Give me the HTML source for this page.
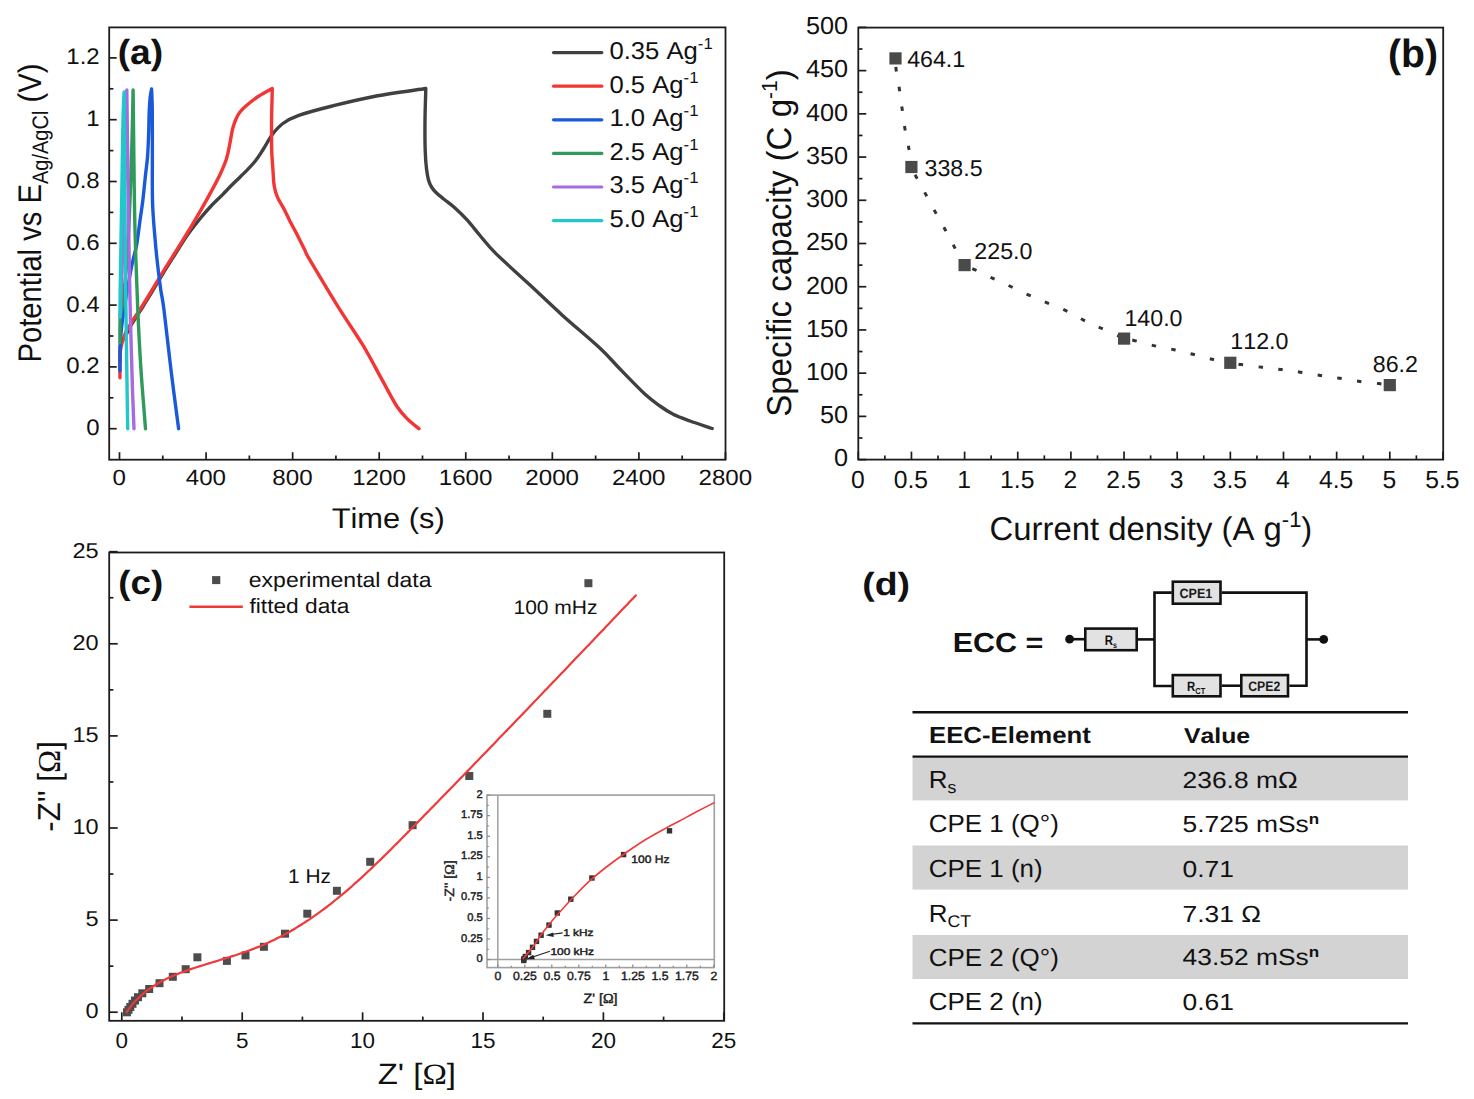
<!DOCTYPE html>
<html><head><meta charset="utf-8"><title>Figure</title>
<style>
html,body{margin:0;padding:0;background:#fff;}
body{width:1474px;height:1099px;overflow:hidden;}
svg{display:block;}
text{font-kerning:none;text-rendering:geometricPrecision;}
</style></head>
<body>
<svg width="1474" height="1099" viewBox="0 0 1474 1099">
<defs><clipPath id="clipi"><rect x="487" y="795.1" width="227.3" height="172.5"/></clipPath></defs>
<rect width="1474" height="1099" fill="#fff"/>
<rect x="109.2" y="27.4" width="616.30" height="432.30" fill="none" stroke="#1c1c1c" stroke-width="1.8"/>
<line x1="119.50" y1="459.70" x2="119.50" y2="452.20" stroke="#1c1c1c" stroke-width="1.7"/>
<line x1="162.78" y1="459.70" x2="162.78" y2="455.50" stroke="#1c1c1c" stroke-width="1.7"/>
<line x1="206.07" y1="459.70" x2="206.07" y2="452.20" stroke="#1c1c1c" stroke-width="1.7"/>
<line x1="249.35" y1="459.70" x2="249.35" y2="455.50" stroke="#1c1c1c" stroke-width="1.7"/>
<line x1="292.64" y1="459.70" x2="292.64" y2="452.20" stroke="#1c1c1c" stroke-width="1.7"/>
<line x1="335.92" y1="459.70" x2="335.92" y2="455.50" stroke="#1c1c1c" stroke-width="1.7"/>
<line x1="379.20" y1="459.70" x2="379.20" y2="452.20" stroke="#1c1c1c" stroke-width="1.7"/>
<line x1="422.49" y1="459.70" x2="422.49" y2="455.50" stroke="#1c1c1c" stroke-width="1.7"/>
<line x1="465.77" y1="459.70" x2="465.77" y2="452.20" stroke="#1c1c1c" stroke-width="1.7"/>
<line x1="509.06" y1="459.70" x2="509.06" y2="455.50" stroke="#1c1c1c" stroke-width="1.7"/>
<line x1="552.34" y1="459.70" x2="552.34" y2="452.20" stroke="#1c1c1c" stroke-width="1.7"/>
<line x1="595.62" y1="459.70" x2="595.62" y2="455.50" stroke="#1c1c1c" stroke-width="1.7"/>
<line x1="638.91" y1="459.70" x2="638.91" y2="452.20" stroke="#1c1c1c" stroke-width="1.7"/>
<line x1="682.19" y1="459.70" x2="682.19" y2="455.50" stroke="#1c1c1c" stroke-width="1.7"/>
<line x1="725.48" y1="459.70" x2="725.48" y2="452.20" stroke="#1c1c1c" stroke-width="1.7"/>
<line x1="109.20" y1="428.70" x2="116.70" y2="428.70" stroke="#1c1c1c" stroke-width="1.7"/>
<line x1="109.20" y1="397.80" x2="113.40" y2="397.80" stroke="#1c1c1c" stroke-width="1.7"/>
<line x1="109.20" y1="366.90" x2="116.70" y2="366.90" stroke="#1c1c1c" stroke-width="1.7"/>
<line x1="109.20" y1="336.00" x2="113.40" y2="336.00" stroke="#1c1c1c" stroke-width="1.7"/>
<line x1="109.20" y1="305.10" x2="116.70" y2="305.10" stroke="#1c1c1c" stroke-width="1.7"/>
<line x1="109.20" y1="274.20" x2="113.40" y2="274.20" stroke="#1c1c1c" stroke-width="1.7"/>
<line x1="109.20" y1="243.30" x2="116.70" y2="243.30" stroke="#1c1c1c" stroke-width="1.7"/>
<line x1="109.20" y1="212.40" x2="113.40" y2="212.40" stroke="#1c1c1c" stroke-width="1.7"/>
<line x1="109.20" y1="181.50" x2="116.70" y2="181.50" stroke="#1c1c1c" stroke-width="1.7"/>
<line x1="109.20" y1="150.60" x2="113.40" y2="150.60" stroke="#1c1c1c" stroke-width="1.7"/>
<line x1="109.20" y1="119.70" x2="116.70" y2="119.70" stroke="#1c1c1c" stroke-width="1.7"/>
<line x1="109.20" y1="88.80" x2="113.40" y2="88.80" stroke="#1c1c1c" stroke-width="1.7"/>
<line x1="109.20" y1="57.90" x2="116.70" y2="57.90" stroke="#1c1c1c" stroke-width="1.7"/>
<path d="M120.0,362.0 C120.1,359.2 119.6,349.2 120.4,345.0 C121.2,340.8 123.1,340.5 125.0,337.0 C126.9,333.5 129.3,328.3 131.8,324.0 C134.3,319.7 137.0,316.0 140.0,311.2 C143.0,306.4 146.2,301.4 150.0,295.2 C153.8,289.0 158.4,280.9 162.7,274.0 C166.9,267.1 172.2,258.9 175.5,253.6 C178.8,248.3 180.2,246.0 182.6,242.3 C185.0,238.6 186.9,235.6 190.0,231.5 C193.1,227.4 197.5,221.8 201.0,217.5 C204.5,213.2 207.5,209.8 211.1,206.0 C214.7,202.2 218.8,198.5 222.6,194.6 C226.4,190.7 230.1,186.8 234.1,182.8 C238.1,178.8 243.2,174.1 246.8,170.4 C250.4,166.7 252.9,164.1 255.7,160.5 C258.5,156.9 260.6,153.3 263.4,149.0 C266.2,144.7 269.1,138.8 272.3,134.5 C275.6,130.2 278.5,126.7 282.9,123.5 C287.3,120.3 290.6,118.3 298.8,115.4 C307.0,112.5 319.4,109.2 332.3,106.0 C345.2,102.8 360.8,98.9 376.4,96.0 C392.0,93.1 417.6,89.8 425.8,88.5 L425.8,88.5 C425.7,93.8 425.1,109.8 425.0,120.0 C424.9,130.2 424.9,141.9 425.2,150.0 C425.4,158.1 425.9,163.8 426.5,168.8 C427.1,173.8 427.7,177.0 428.5,180.0 C429.3,183.0 430.2,184.9 431.5,187.0 C432.8,189.1 434.0,190.5 436.0,192.5 C438.0,194.5 440.5,196.4 443.7,199.0 C446.9,201.6 451.1,204.5 455.0,208.0 C458.9,211.5 463.1,215.6 467.3,220.2 C471.5,224.8 475.3,230.0 480.0,235.5 C484.7,241.0 487.4,245.2 495.7,253.4 C504.0,261.6 519.0,274.8 530.0,285.0 C541.0,295.2 550.4,304.4 562.0,314.9 C573.6,325.4 590.1,339.0 599.8,348.0 C609.5,357.0 612.5,361.3 620.0,369.0 C627.5,376.7 638.1,387.8 644.8,394.0 C651.5,400.2 655.3,402.6 660.0,406.0 C664.7,409.4 668.2,411.8 673.2,414.3 C678.2,416.8 683.5,418.6 690.0,421.0 C696.5,423.4 708.5,427.2 712.2,428.5" fill="none" stroke="#404040" stroke-width="3.4" stroke-linejoin="round" stroke-linecap="round"/>
<path d="M120.0,377.7 C120.0,373.4 119.5,359.3 120.3,352.0 C121.1,344.7 123.1,339.0 125.0,334.0 C126.9,329.0 129.3,326.1 131.8,322.0 C134.3,317.9 137.0,314.2 140.0,309.5 C143.0,304.8 146.2,299.7 150.0,293.5 C153.8,287.3 158.4,279.2 162.7,272.3 C166.9,265.4 171.2,258.7 175.5,251.9 C179.8,245.1 183.9,238.5 188.2,231.5 C192.4,224.5 196.8,217.3 201.0,209.9 C205.2,202.5 210.3,193.3 213.7,186.9 C217.1,180.5 219.2,176.4 221.3,171.7 C223.4,167.0 225.0,163.3 226.4,158.9 C227.8,154.5 228.6,150.0 229.6,145.0 C230.6,140.0 231.5,133.3 232.6,129.0 C233.7,124.7 234.8,121.8 236.0,119.0 C237.2,116.2 238.3,114.2 240.0,112.0 C241.7,109.8 242.9,108.6 245.9,106.0 C248.9,103.4 253.8,99.4 258.2,96.5 C262.6,93.6 269.9,89.8 272.3,88.5 L272.3,88.5 C272.2,93.8 271.7,109.8 271.6,120.0 C271.5,130.2 271.5,141.8 271.7,150.0 C271.9,158.2 272.5,163.2 272.9,169.1 C273.3,175.0 273.4,181.0 274.2,185.7 C274.9,190.4 275.8,193.3 277.4,197.1 C279.0,200.9 281.7,204.6 283.8,208.6 C285.9,212.6 288.0,217.3 290.0,221.3 C292.0,225.3 293.5,227.6 296.0,232.5 C298.5,237.4 302.8,246.1 305.0,250.5 C307.2,254.9 303.6,249.4 309.1,258.7 C314.6,268.0 328.9,292.1 337.8,306.4 C346.7,320.7 355.3,332.6 362.6,344.7 C369.9,356.8 376.0,368.8 381.7,379.1 C387.4,389.4 392.6,399.8 397.0,406.5 C401.4,413.2 404.3,415.8 408.0,419.5 C411.7,423.2 417.2,427.2 419.0,428.7" fill="none" stroke="#f23535" stroke-width="3.4" stroke-linejoin="round" stroke-linecap="round"/>
<path d="M120.0,371.0 C120.0,366.7 120.0,352.2 120.2,345.0 C120.5,337.8 120.9,333.8 121.5,328.0 C122.1,322.2 123.1,316.0 124.0,310.0 C124.9,304.0 126.1,297.5 127.0,292.0 C127.9,286.5 128.6,282.3 129.6,277.0 C130.6,271.7 131.8,265.4 133.0,260.0 C134.2,254.6 135.4,251.8 136.7,244.6 C137.9,237.4 139.4,224.6 140.5,217.0 C141.6,209.4 142.2,206.0 143.0,199.0 C143.8,192.0 144.7,182.2 145.5,175.0 C146.3,167.8 147.1,162.7 147.6,156.0 C148.1,149.3 148.3,142.3 148.6,135.0 C148.9,127.7 148.9,118.3 149.2,112.0 C149.5,105.7 149.8,100.8 150.2,97.0 C150.6,93.2 151.4,90.3 151.6,89.0 L151.6,89.0 C151.7,92.5 152.2,99.8 152.3,110.0 C152.4,120.2 152.4,134.8 152.4,150.0 C152.4,165.2 152.1,186.1 152.5,201.0 C152.9,215.9 154.2,228.6 155.1,239.2 C155.9,249.8 156.6,256.1 157.6,264.6 C158.6,273.1 159.7,282.4 160.8,290.0 C161.9,297.6 162.3,296.7 164.0,310.0 C165.7,323.3 168.6,350.2 171.0,370.0 C173.4,389.8 177.3,418.9 178.6,428.7" fill="none" stroke="#1a5ad8" stroke-width="3.4" stroke-linejoin="round" stroke-linecap="round"/>
<path d="M120.0,342.6 C120.0,338.5 119.7,325.1 120.2,318.0 C120.7,310.9 121.9,309.7 123.0,300.0 C124.1,290.3 125.8,276.7 127.0,260.0 C128.2,243.3 129.2,220.0 130.0,200.0 C130.8,180.0 131.5,158.3 132.0,140.0 C132.5,121.7 132.9,98.3 133.1,90.0 L133.1,90.0 C133.2,100.0 133.5,126.7 133.8,150.0 C134.1,173.3 134.3,203.3 135.0,230.0 C135.7,256.7 136.8,286.7 137.8,310.0 C138.8,333.3 139.7,350.2 141.0,370.0 C142.3,389.8 144.8,418.9 145.5,428.7" fill="none" stroke="#2e9b5b" stroke-width="3.4" stroke-linejoin="round" stroke-linecap="round"/>
<path d="M120.0,317.0 C120.2,314.2 120.5,312.8 121.0,300.0 C121.5,287.2 122.3,263.3 123.0,240.0 C123.7,216.7 124.4,185.0 125.0,160.0 C125.6,135.0 126.5,101.7 126.8,90.0 L126.8,90.0 C126.9,100.0 127.2,123.3 127.6,150.0 C128.0,176.7 128.5,221.7 129.0,250.0 C129.5,278.3 129.9,296.7 130.5,320.0 C131.1,343.3 131.9,371.9 132.5,390.0 C133.1,408.1 133.8,422.2 134.0,428.7" fill="none" stroke="#a86ae0" stroke-width="3.4" stroke-linejoin="round" stroke-linecap="round"/>
<path d="M120.0,317.0 C120.0,312.5 120.0,302.8 120.2,290.0 C120.4,277.2 120.7,258.3 121.0,240.0 C121.3,221.7 121.7,200.0 122.0,180.0 C122.3,160.0 122.7,134.7 123.0,120.0 C123.3,105.3 123.9,96.7 124.1,92.0 L124.1,92.0 C124.2,101.7 124.4,123.7 124.6,150.0 C124.8,176.3 125.0,220.0 125.3,250.0 C125.6,280.0 125.8,300.2 126.2,330.0 C126.6,359.8 127.5,412.2 127.7,428.7" fill="none" stroke="#20c8cc" stroke-width="3.4" stroke-linejoin="round" stroke-linecap="round"/>
<line x1="553.50" y1="52.60" x2="601.80" y2="52.60" stroke="#404040" stroke-width="3.2" stroke-linecap="round"/>
<line x1="553.50" y1="86.20" x2="601.80" y2="86.20" stroke="#f23535" stroke-width="3.2" stroke-linecap="round"/>
<line x1="553.50" y1="119.80" x2="601.80" y2="119.80" stroke="#1a5ad8" stroke-width="3.2" stroke-linecap="round"/>
<line x1="553.50" y1="153.40" x2="601.80" y2="153.40" stroke="#2e9b5b" stroke-width="3.2" stroke-linecap="round"/>
<line x1="553.50" y1="187.00" x2="601.80" y2="187.00" stroke="#a86ae0" stroke-width="3.2" stroke-linecap="round"/>
<line x1="553.50" y1="220.60" x2="601.80" y2="220.60" stroke="#20c8cc" stroke-width="3.2" stroke-linecap="round"/>
<rect x="858.3" y="27.6" width="584.90" height="432.00" fill="none" stroke="#1c1c1c" stroke-width="1.8"/>
<line x1="858.30" y1="459.60" x2="858.30" y2="451.60" stroke="#1c1c1c" stroke-width="1.7"/>
<line x1="884.88" y1="459.60" x2="884.88" y2="455.40" stroke="#1c1c1c" stroke-width="1.7"/>
<line x1="911.45" y1="459.60" x2="911.45" y2="451.60" stroke="#1c1c1c" stroke-width="1.7"/>
<line x1="938.02" y1="459.60" x2="938.02" y2="455.40" stroke="#1c1c1c" stroke-width="1.7"/>
<line x1="964.60" y1="459.60" x2="964.60" y2="451.60" stroke="#1c1c1c" stroke-width="1.7"/>
<line x1="991.17" y1="459.60" x2="991.17" y2="455.40" stroke="#1c1c1c" stroke-width="1.7"/>
<line x1="1017.75" y1="459.60" x2="1017.75" y2="451.60" stroke="#1c1c1c" stroke-width="1.7"/>
<line x1="1044.33" y1="459.60" x2="1044.33" y2="455.40" stroke="#1c1c1c" stroke-width="1.7"/>
<line x1="1070.90" y1="459.60" x2="1070.90" y2="451.60" stroke="#1c1c1c" stroke-width="1.7"/>
<line x1="1097.47" y1="459.60" x2="1097.47" y2="455.40" stroke="#1c1c1c" stroke-width="1.7"/>
<line x1="1124.05" y1="459.60" x2="1124.05" y2="451.60" stroke="#1c1c1c" stroke-width="1.7"/>
<line x1="1150.62" y1="459.60" x2="1150.62" y2="455.40" stroke="#1c1c1c" stroke-width="1.7"/>
<line x1="1177.20" y1="459.60" x2="1177.20" y2="451.60" stroke="#1c1c1c" stroke-width="1.7"/>
<line x1="1203.77" y1="459.60" x2="1203.77" y2="455.40" stroke="#1c1c1c" stroke-width="1.7"/>
<line x1="1230.35" y1="459.60" x2="1230.35" y2="451.60" stroke="#1c1c1c" stroke-width="1.7"/>
<line x1="1256.92" y1="459.60" x2="1256.92" y2="455.40" stroke="#1c1c1c" stroke-width="1.7"/>
<line x1="1283.50" y1="459.60" x2="1283.50" y2="451.60" stroke="#1c1c1c" stroke-width="1.7"/>
<line x1="1310.07" y1="459.60" x2="1310.07" y2="455.40" stroke="#1c1c1c" stroke-width="1.7"/>
<line x1="1336.65" y1="459.60" x2="1336.65" y2="451.60" stroke="#1c1c1c" stroke-width="1.7"/>
<line x1="1363.22" y1="459.60" x2="1363.22" y2="455.40" stroke="#1c1c1c" stroke-width="1.7"/>
<line x1="1389.80" y1="459.60" x2="1389.80" y2="451.60" stroke="#1c1c1c" stroke-width="1.7"/>
<line x1="1416.38" y1="459.60" x2="1416.38" y2="455.40" stroke="#1c1c1c" stroke-width="1.7"/>
<line x1="1442.95" y1="459.60" x2="1442.95" y2="451.60" stroke="#1c1c1c" stroke-width="1.7"/>
<line x1="858.30" y1="459.60" x2="866.30" y2="459.60" stroke="#1c1c1c" stroke-width="1.7"/>
<line x1="858.30" y1="437.99" x2="862.50" y2="437.99" stroke="#1c1c1c" stroke-width="1.7"/>
<line x1="858.30" y1="416.38" x2="866.30" y2="416.38" stroke="#1c1c1c" stroke-width="1.7"/>
<line x1="858.30" y1="394.77" x2="862.50" y2="394.77" stroke="#1c1c1c" stroke-width="1.7"/>
<line x1="858.30" y1="373.16" x2="866.30" y2="373.16" stroke="#1c1c1c" stroke-width="1.7"/>
<line x1="858.30" y1="351.55" x2="862.50" y2="351.55" stroke="#1c1c1c" stroke-width="1.7"/>
<line x1="858.30" y1="329.94" x2="866.30" y2="329.94" stroke="#1c1c1c" stroke-width="1.7"/>
<line x1="858.30" y1="308.33" x2="862.50" y2="308.33" stroke="#1c1c1c" stroke-width="1.7"/>
<line x1="858.30" y1="286.72" x2="866.30" y2="286.72" stroke="#1c1c1c" stroke-width="1.7"/>
<line x1="858.30" y1="265.11" x2="862.50" y2="265.11" stroke="#1c1c1c" stroke-width="1.7"/>
<line x1="858.30" y1="243.50" x2="866.30" y2="243.50" stroke="#1c1c1c" stroke-width="1.7"/>
<line x1="858.30" y1="221.89" x2="862.50" y2="221.89" stroke="#1c1c1c" stroke-width="1.7"/>
<line x1="858.30" y1="200.28" x2="866.30" y2="200.28" stroke="#1c1c1c" stroke-width="1.7"/>
<line x1="858.30" y1="178.67" x2="862.50" y2="178.67" stroke="#1c1c1c" stroke-width="1.7"/>
<line x1="858.30" y1="157.06" x2="866.30" y2="157.06" stroke="#1c1c1c" stroke-width="1.7"/>
<line x1="858.30" y1="135.45" x2="862.50" y2="135.45" stroke="#1c1c1c" stroke-width="1.7"/>
<line x1="858.30" y1="113.84" x2="866.30" y2="113.84" stroke="#1c1c1c" stroke-width="1.7"/>
<line x1="858.30" y1="92.23" x2="862.50" y2="92.23" stroke="#1c1c1c" stroke-width="1.7"/>
<line x1="858.30" y1="70.62" x2="866.30" y2="70.62" stroke="#1c1c1c" stroke-width="1.7"/>
<line x1="858.30" y1="49.01" x2="862.50" y2="49.01" stroke="#1c1c1c" stroke-width="1.7"/>
<line x1="858.30" y1="27.40" x2="866.30" y2="27.40" stroke="#1c1c1c" stroke-width="1.7"/>
<path d="M895.7,58.3 C895.8,60.2 895.5,64.3 896.1,69.5 C896.7,74.7 898.4,82.7 899.4,89.2 C900.4,95.8 901.2,102.3 902.1,108.8 C903.0,115.2 903.7,121.3 904.8,127.9 C905.9,134.5 907.7,141.7 908.8,148.2 C909.9,154.7 910.8,163.9 911.2,167.0" fill="none" stroke="#333" stroke-width="3" stroke-dasharray="4.5 15.4" stroke-dashoffset="-8.8" stroke-linecap="butt"/>
<path d="M911.2,167.0 C912.1,168.8 914.3,173.3 916.8,177.9 C919.2,182.5 922.8,188.8 925.9,194.6 C929.0,200.3 932.3,206.6 935.5,212.4 C938.7,218.2 942.0,223.9 945.2,229.7 C948.4,235.5 951.4,241.5 954.6,247.4 C957.8,253.3 962.8,262.3 964.4,265.3" fill="none" stroke="#333" stroke-width="3" stroke-dasharray="4.5 15.4" stroke-dashoffset="-8.8" stroke-linecap="butt"/>
<path d="M964.4,265.3 C966.1,266.0 969.9,267.4 974.6,269.6 C979.3,271.8 986.8,275.5 992.8,278.3 C998.8,281.1 1004.7,283.7 1010.7,286.5 C1016.7,289.3 1022.8,292.4 1028.9,295.1 C1035.0,297.8 1041.0,300.3 1047.1,302.9 C1053.2,305.4 1059.4,307.6 1065.4,310.4 C1071.4,313.2 1077.2,317.0 1083.1,319.9 C1089.0,322.8 1093.9,324.9 1100.7,328.0 C1107.5,331.1 1120.0,336.7 1123.8,338.4" fill="none" stroke="#333" stroke-width="3" stroke-dasharray="4.5 15.4" stroke-dashoffset="-8.8" stroke-linecap="butt"/>
<path d="M1123.8,338.4 C1125.4,338.7 1128.3,339.0 1133.3,340.2 C1138.3,341.4 1146.8,344.0 1153.6,345.6 C1160.4,347.2 1167.4,348.2 1174.0,349.7 C1180.6,351.1 1186.7,352.7 1193.0,354.3 C1199.3,355.9 1205.8,357.8 1212.0,359.2 C1218.2,360.6 1227.1,362.0 1230.1,362.6" fill="none" stroke="#333" stroke-width="3" stroke-dasharray="4.5 15.4" stroke-dashoffset="-8.8" stroke-linecap="butt"/>
<path d="M1230.1,362.6 C1232.0,362.9 1235.9,363.8 1241.3,364.6 C1246.7,365.4 1255.5,366.5 1262.2,367.3 C1268.9,368.1 1274.9,368.7 1281.2,369.5 C1287.5,370.3 1293.7,371.2 1300.2,372.2 C1306.8,373.2 1314.0,374.5 1320.5,375.5 C1327.0,376.5 1332.9,377.2 1339.5,378.2 C1346.1,379.2 1353.3,380.6 1359.9,381.5 C1366.5,382.4 1373.9,383.0 1378.9,383.6 C1383.9,384.2 1387.9,384.8 1389.7,385.0" fill="none" stroke="#333" stroke-width="3" stroke-dasharray="4.5 15.4" stroke-dashoffset="-8.8" stroke-linecap="butt"/>
<rect x="889.4" y="52.3" width="12.2" height="12.2" fill="#4a4a4a"/>
<rect x="905.3" y="160.9" width="12.2" height="12.2" fill="#4a4a4a"/>
<rect x="958.5" y="259.0" width="12.2" height="12.2" fill="#4a4a4a"/>
<rect x="1118.0" y="332.5" width="12.2" height="12.2" fill="#4a4a4a"/>
<rect x="1224.2" y="356.7" width="12.2" height="12.2" fill="#4a4a4a"/>
<rect x="1383.7" y="379.0" width="12.2" height="12.2" fill="#4a4a4a"/>
<rect x="109.2" y="552.5" width="615.00" height="468.30" fill="none" stroke="#1c1c1c" stroke-width="1.8"/>
<line x1="121.80" y1="1020.80" x2="121.80" y2="1012.30" stroke="#1c1c1c" stroke-width="1.7"/>
<line x1="182.00" y1="1020.80" x2="182.00" y2="1016.60" stroke="#1c1c1c" stroke-width="1.7"/>
<line x1="242.20" y1="1020.80" x2="242.20" y2="1012.30" stroke="#1c1c1c" stroke-width="1.7"/>
<line x1="302.40" y1="1020.80" x2="302.40" y2="1016.60" stroke="#1c1c1c" stroke-width="1.7"/>
<line x1="362.60" y1="1020.80" x2="362.60" y2="1012.30" stroke="#1c1c1c" stroke-width="1.7"/>
<line x1="422.80" y1="1020.80" x2="422.80" y2="1016.60" stroke="#1c1c1c" stroke-width="1.7"/>
<line x1="483.00" y1="1020.80" x2="483.00" y2="1012.30" stroke="#1c1c1c" stroke-width="1.7"/>
<line x1="543.20" y1="1020.80" x2="543.20" y2="1016.60" stroke="#1c1c1c" stroke-width="1.7"/>
<line x1="603.40" y1="1020.80" x2="603.40" y2="1012.30" stroke="#1c1c1c" stroke-width="1.7"/>
<line x1="663.60" y1="1020.80" x2="663.60" y2="1016.60" stroke="#1c1c1c" stroke-width="1.7"/>
<line x1="723.80" y1="1020.80" x2="723.80" y2="1012.30" stroke="#1c1c1c" stroke-width="1.7"/>
<line x1="109.20" y1="1012.20" x2="117.70" y2="1012.20" stroke="#1c1c1c" stroke-width="1.7"/>
<line x1="109.20" y1="966.15" x2="113.40" y2="966.15" stroke="#1c1c1c" stroke-width="1.7"/>
<line x1="109.20" y1="920.10" x2="117.70" y2="920.10" stroke="#1c1c1c" stroke-width="1.7"/>
<line x1="109.20" y1="874.05" x2="113.40" y2="874.05" stroke="#1c1c1c" stroke-width="1.7"/>
<line x1="109.20" y1="828.00" x2="117.70" y2="828.00" stroke="#1c1c1c" stroke-width="1.7"/>
<line x1="109.20" y1="781.95" x2="113.40" y2="781.95" stroke="#1c1c1c" stroke-width="1.7"/>
<line x1="109.20" y1="735.90" x2="117.70" y2="735.90" stroke="#1c1c1c" stroke-width="1.7"/>
<line x1="109.20" y1="689.85" x2="113.40" y2="689.85" stroke="#1c1c1c" stroke-width="1.7"/>
<line x1="109.20" y1="643.80" x2="117.70" y2="643.80" stroke="#1c1c1c" stroke-width="1.7"/>
<line x1="109.20" y1="597.75" x2="113.40" y2="597.75" stroke="#1c1c1c" stroke-width="1.7"/>
<line x1="109.20" y1="551.70" x2="117.70" y2="551.70" stroke="#1c1c1c" stroke-width="1.7"/>
<rect x="212.1" y="576.1" width="8.2" height="8" fill="#4d4d4d"/>
<line x1="189.40" y1="606.80" x2="242.80" y2="606.80" stroke="#f03a3a" stroke-width="2.4"/>
<rect x="584.4" y="579.2" width="8" height="8" fill="#4d4d4d"/>
<rect x="543.3" y="709.8" width="8" height="8" fill="#4d4d4d"/>
<rect x="465.3" y="772.0" width="8" height="8" fill="#4d4d4d"/>
<rect x="408.6" y="821.2" width="8" height="8" fill="#4d4d4d"/>
<rect x="366.2" y="857.8" width="8" height="8" fill="#4d4d4d"/>
<rect x="332.9" y="886.8" width="8" height="8" fill="#4d4d4d"/>
<rect x="303.3" y="909.7" width="8" height="8" fill="#4d4d4d"/>
<rect x="281.0" y="929.7" width="8" height="8" fill="#4d4d4d"/>
<rect x="259.9" y="942.8" width="8" height="8" fill="#4d4d4d"/>
<rect x="241.5" y="951.4" width="8" height="8" fill="#4d4d4d"/>
<rect x="222.9" y="956.9" width="8" height="8" fill="#4d4d4d"/>
<rect x="193.4" y="953.3" width="8" height="8" fill="#4d4d4d"/>
<rect x="181.7" y="965.2" width="8" height="8" fill="#4d4d4d"/>
<rect x="168.8" y="972.8" width="8" height="8" fill="#4d4d4d"/>
<rect x="155.5" y="979.2" width="8" height="8" fill="#4d4d4d"/>
<rect x="145.2" y="985.0" width="8" height="8" fill="#4d4d4d"/>
<rect x="138.3" y="989.3" width="8" height="8" fill="#4d4d4d"/>
<rect x="134.0" y="993.2" width="8" height="8" fill="#4d4d4d"/>
<rect x="131.0" y="996.5" width="8" height="8" fill="#4d4d4d"/>
<rect x="128.5" y="999.8" width="8" height="8" fill="#4d4d4d"/>
<rect x="126.3" y="1003.0" width="8" height="8" fill="#4d4d4d"/>
<rect x="124.5" y="1005.8" width="8" height="8" fill="#4d4d4d"/>
<rect x="123.0" y="1008.3" width="8" height="8" fill="#4d4d4d"/>
<path d="M126.7,1012.0 L128.5,1009.4 L130.4,1006.9 L132.4,1004.4 L134.4,1002.1 L136.5,999.8 L138.7,997.7 L141.0,995.6 L143.3,993.6 L145.6,991.7 L148.0,989.9 L150.5,988.1 L153.0,986.5 L155.5,984.8 L158.1,983.3 L160.7,981.8 L163.4,980.4 L166.1,979.1 L168.8,977.8 L171.5,976.5 L174.3,975.3 L177.1,974.2 L179.9,973.0 L182.8,972.0 L185.6,970.9 L188.5,969.9 L191.4,968.9 L194.3,968.0 L197.2,967.0 L200.1,966.1 L203.1,965.2 L206.0,964.3 L209.0,963.4 L211.9,962.5 L214.8,961.6 L217.8,960.7 L220.7,959.8 L223.7,958.9 L226.6,958.0 L229.5,957.1 L232.5,956.1 L235.4,955.2 L238.3,954.2 L241.2,953.2 L244.1,952.2 L247.0,951.2 L249.8,950.2 L252.7,949.1 L255.5,948.0 L258.4,946.9 L261.2,945.7 L264.0,944.5 L266.7,943.3 L269.5,942.1 L272.2,940.8 L274.9,939.5 L277.6,938.1 L280.3,936.8 L283.0,935.4 L285.6,933.9 L288.3,932.5 L290.9,931.0 L293.5,929.5 L296.1,927.9 L298.6,926.3 L301.2,924.7 L303.7,923.1 L306.2,921.5 L308.8,919.8 L311.3,918.1 L313.7,916.4 L316.2,914.7 L318.7,912.9 L321.1,911.1 L323.5,909.3 L326.0,907.5 L328.4,905.7 L330.8,903.8 L333.2,901.9 L335.5,900.0 L337.9,898.1 L340.2,896.2 L342.6,894.2 L344.9,892.3 L347.2,890.3 L349.5,888.3 L351.9,886.3 L354.1,884.2 L356.4,882.2 L358.7,880.1 L361.0,878.1 L363.2,876.0 L365.5,873.9 L367.7,871.8 L370.0,869.7 L372.2,867.6 L374.4,865.5 L376.7,863.3 L378.9,861.2 L381.1,859.1 L383.3,856.9 L385.5,854.7 L387.7,852.6 L389.9,850.4 L392.0,848.2 L394.2,846.0 L396.4,843.9 L398.6,841.7 L400.7,839.5 L402.9,837.3 L405.1,835.1 L407.2,832.9 L409.4,830.7 L411.5,828.5 L413.7,826.3 L415.8,824.1 L418.0,821.9 L420.1,819.7 L422.3,817.5 L424.4,815.3 L426.6,813.1 L428.7,811.0 L430.8,808.8 L433.0,806.6 L435.1,804.4 L437.3,802.2 L439.4,800.0 L441.5,797.8 L443.7,795.6 L445.8,793.4 L447.9,791.3 L450.1,789.1 L452.2,786.9 L454.3,784.7 L456.4,782.5 L458.6,780.3 L460.7,778.1 L462.8,776.0 L464.9,773.8 L467.0,771.6 L469.2,769.4 L471.3,767.2 L473.4,765.0 L475.5,762.8 L477.6,760.7 L479.7,758.5 L481.8,756.3 L484.0,754.1 L486.1,751.9 L488.2,749.7 L490.3,747.5 L492.4,745.4 L494.5,743.2 L496.6,741.0 L498.7,738.8 L500.8,736.6 L502.9,734.4 L505.0,732.2 L507.1,730.1 L509.2,727.9 L511.4,725.7 L513.5,723.5 L515.6,721.3 L517.7,719.1 L519.8,716.9 L521.9,714.7 L524.0,712.6 L526.1,710.4 L528.2,708.2 L530.3,706.0 L532.4,703.8 L534.5,701.6 L536.6,699.4 L538.7,697.2 L540.8,695.0 L542.9,692.8 L545.0,690.6 L547.1,688.4 L549.2,686.2 L551.3,684.0 L553.4,681.8 L555.5,679.7 L557.6,677.5 L559.7,675.3 L561.8,673.1 L563.9,670.9 L566.0,668.7 L568.1,666.4 L570.2,664.2 L572.3,662.0 L574.4,659.8 L576.5,657.6 L578.6,655.4 L580.7,653.2 L582.9,651.0 L585.0,648.8 L587.1,646.6 L589.2,644.4 L591.3,642.2 L593.4,640.0 L595.5,637.7 L597.6,635.5 L599.7,633.3 L601.9,631.1 L604.0,628.9 L606.1,626.6 L608.2,624.4 L610.3,622.2 L612.4,620.0 L614.5,617.8 L616.7,615.5 L618.8,613.3 L620.9,611.1 L623.0,608.8 L625.2,606.6 L627.3,604.4 L629.4,602.1 L631.5,599.9 L633.7,597.7 L635.8,595.4" fill="none" stroke="#f03a3a" stroke-width="2.2" stroke-linejoin="round" stroke-linecap="round"/>
<rect x="487.0" y="795.1" width="227.3" height="172.5" fill="#fff" stroke="#a0a0a0" stroke-width="1.6"/>
<line x1="497.80" y1="795.10" x2="497.80" y2="967.60" stroke="#a0a0a0" stroke-width="1.5"/>
<line x1="487.00" y1="959.60" x2="714.30" y2="959.60" stroke="#a0a0a0" stroke-width="1.5"/>
<line x1="497.80" y1="967.60" x2="497.80" y2="964.60" stroke="#888" stroke-width="1.2"/>
<line x1="511.30" y1="967.60" x2="511.30" y2="965.80" stroke="#888" stroke-width="1.2"/>
<line x1="524.80" y1="967.60" x2="524.80" y2="964.60" stroke="#888" stroke-width="1.2"/>
<line x1="538.30" y1="967.60" x2="538.30" y2="965.80" stroke="#888" stroke-width="1.2"/>
<line x1="551.80" y1="967.60" x2="551.80" y2="964.60" stroke="#888" stroke-width="1.2"/>
<line x1="565.30" y1="967.60" x2="565.30" y2="965.80" stroke="#888" stroke-width="1.2"/>
<line x1="578.80" y1="967.60" x2="578.80" y2="964.60" stroke="#888" stroke-width="1.2"/>
<line x1="592.30" y1="967.60" x2="592.30" y2="965.80" stroke="#888" stroke-width="1.2"/>
<line x1="605.80" y1="967.60" x2="605.80" y2="964.60" stroke="#888" stroke-width="1.2"/>
<line x1="619.30" y1="967.60" x2="619.30" y2="965.80" stroke="#888" stroke-width="1.2"/>
<line x1="632.80" y1="967.60" x2="632.80" y2="964.60" stroke="#888" stroke-width="1.2"/>
<line x1="646.30" y1="967.60" x2="646.30" y2="965.80" stroke="#888" stroke-width="1.2"/>
<line x1="659.80" y1="967.60" x2="659.80" y2="964.60" stroke="#888" stroke-width="1.2"/>
<line x1="673.30" y1="967.60" x2="673.30" y2="965.80" stroke="#888" stroke-width="1.2"/>
<line x1="686.80" y1="967.60" x2="686.80" y2="964.60" stroke="#888" stroke-width="1.2"/>
<line x1="700.30" y1="967.60" x2="700.30" y2="965.80" stroke="#888" stroke-width="1.2"/>
<line x1="713.80" y1="967.60" x2="713.80" y2="964.60" stroke="#888" stroke-width="1.2"/>
<line x1="487.00" y1="959.60" x2="490.00" y2="959.60" stroke="#888" stroke-width="1.2"/>
<line x1="487.00" y1="949.32" x2="488.80" y2="949.32" stroke="#888" stroke-width="1.2"/>
<line x1="487.00" y1="939.04" x2="490.00" y2="939.04" stroke="#888" stroke-width="1.2"/>
<line x1="487.00" y1="928.76" x2="488.80" y2="928.76" stroke="#888" stroke-width="1.2"/>
<line x1="487.00" y1="918.48" x2="490.00" y2="918.48" stroke="#888" stroke-width="1.2"/>
<line x1="487.00" y1="908.19" x2="488.80" y2="908.19" stroke="#888" stroke-width="1.2"/>
<line x1="487.00" y1="897.91" x2="490.00" y2="897.91" stroke="#888" stroke-width="1.2"/>
<line x1="487.00" y1="887.63" x2="488.80" y2="887.63" stroke="#888" stroke-width="1.2"/>
<line x1="487.00" y1="877.35" x2="490.00" y2="877.35" stroke="#888" stroke-width="1.2"/>
<line x1="487.00" y1="867.07" x2="488.80" y2="867.07" stroke="#888" stroke-width="1.2"/>
<line x1="487.00" y1="856.79" x2="490.00" y2="856.79" stroke="#888" stroke-width="1.2"/>
<line x1="487.00" y1="846.51" x2="488.80" y2="846.51" stroke="#888" stroke-width="1.2"/>
<line x1="487.00" y1="836.23" x2="490.00" y2="836.23" stroke="#888" stroke-width="1.2"/>
<line x1="487.00" y1="825.94" x2="488.80" y2="825.94" stroke="#888" stroke-width="1.2"/>
<line x1="487.00" y1="815.66" x2="490.00" y2="815.66" stroke="#888" stroke-width="1.2"/>
<line x1="487.00" y1="805.38" x2="488.80" y2="805.38" stroke="#888" stroke-width="1.2"/>
<line x1="487.00" y1="795.10" x2="490.00" y2="795.10" stroke="#888" stroke-width="1.2"/>
<line x1="562.60" y1="932.90" x2="551.00" y2="934.50" stroke="#222" stroke-width="1.2"/>
<polygon points="545.7,935.2 553.3,932.6 553.7,936.9" fill="#222"/>
<line x1="549.90" y1="951.30" x2="532.00" y2="957.20" stroke="#222" stroke-width="1.2"/>
<polygon points="525.9,959.2 533.2,954.8 534.9,959.2" fill="#222"/>
<rect x="666.8" y="828.1" width="5.4" height="5.4" fill="#333"/>
<rect x="620.9" y="851.9" width="5.4" height="5.4" fill="#333"/>
<rect x="589.2" y="875.3" width="5.4" height="5.4" fill="#333"/>
<rect x="568.1" y="896.5" width="5.4" height="5.4" fill="#333"/>
<rect x="554.6" y="910.3" width="5.4" height="5.4" fill="#333"/>
<rect x="546.3" y="922.4" width="5.4" height="5.4" fill="#333"/>
<rect x="538.4" y="932.5" width="5.4" height="5.4" fill="#333"/>
<rect x="533.8" y="938.7" width="5.4" height="5.4" fill="#333"/>
<rect x="529.8" y="944.6" width="5.4" height="5.4" fill="#333"/>
<rect x="525.9" y="949.9" width="5.4" height="5.4" fill="#333"/>
<rect x="522.6" y="953.8" width="5.4" height="5.4" fill="#333"/>
<rect x="521.1" y="956.1" width="5.4" height="5.4" fill="#333"/>
<rect x="521.1" y="957.8" width="5.4" height="5.4" fill="#333"/>
<path d="M523.3,958.5 C524.9,956.5 530.2,950.6 533.2,946.6 C536.2,942.6 538.2,938.8 541.1,934.8 C544.0,930.8 547.2,926.6 550.3,922.9 C553.4,919.1 555.9,916.5 559.6,912.3 C563.4,908.1 567.8,903.1 572.8,897.8 C577.8,892.5 584.4,885.8 589.9,880.7 C595.4,875.7 599.9,872.1 605.8,867.5 C611.7,862.9 618.9,857.6 625.5,853.0 C632.1,848.4 638.7,843.9 645.3,839.8 C651.9,835.7 659.3,831.8 665.1,828.6 C670.9,825.4 674.7,823.6 680.0,820.7 C685.3,817.9 691.0,814.6 697.0,811.5 C703.0,808.4 712.8,803.4 716.0,801.8" fill="none" stroke="#f03a3a" stroke-width="1.6" stroke-linejoin="round" stroke-linecap="round" clip-path="url(#clipi)"/>
<circle cx="1069.6" cy="639.2" r="4.4" fill="#111"/>
<line x1="1069.60" y1="639.20" x2="1084.50" y2="639.20" stroke="#111" stroke-width="2.6"/>
<rect x="1085.3" y="628.6" width="51.4" height="21.6" fill="#e2e2e2" stroke="#111" stroke-width="2.6"/>
<line x1="1138.00" y1="639.40" x2="1154.50" y2="639.40" stroke="#111" stroke-width="2.6"/>
<polyline points="1171.8,592.6 1154.5,592.6 1154.5,686.0 1171.8,686.0" fill="none" stroke="#111" stroke-width="2.6"/>
<rect x="1172.8" y="581.7" width="47.7" height="22.0" fill="#e2e2e2" stroke="#111" stroke-width="2.6"/>
<rect x="1172.8" y="675.1" width="47.7" height="21.2" fill="#e2e2e2" stroke="#111" stroke-width="2.6"/>
<rect x="1241.3" y="675.1" width="46.7" height="21.2" fill="#e2e2e2" stroke="#111" stroke-width="2.6"/>
<line x1="1221.80" y1="685.70" x2="1240.00" y2="685.70" stroke="#111" stroke-width="2.6"/>
<polyline points="1221.8,592.6 1306.5,592.6 1306.5,685.8 1289.3,685.8" fill="none" stroke="#111" stroke-width="2.6"/>
<line x1="1306.50" y1="639.40" x2="1323.70" y2="639.40" stroke="#111" stroke-width="2.6"/>
<circle cx="1323.7" cy="639.4" r="4.4" fill="#111"/>
<rect x="912.5" y="757.7" width="495.5" height="42.7" fill="#d3d3d3"/>
<rect x="912.5" y="845.5" width="495.5" height="44.1" fill="#d3d3d3"/>
<rect x="912.5" y="935.0" width="495.5" height="44.0" fill="#d3d3d3"/>
<line x1="912.50" y1="712.30" x2="1408.00" y2="712.30" stroke="#111" stroke-width="2.4"/>
<line x1="912.50" y1="756.70" x2="1408.00" y2="756.70" stroke="#111" stroke-width="2.2"/>
<line x1="912.50" y1="1023.40" x2="1408.00" y2="1023.40" stroke="#111" stroke-width="2.4"/>
<text transform="translate(119.30,485.20) scale(1.0949,1)" font-size="22.02" text-anchor="middle" fill="#111" font-family='"Liberation Sans", sans-serif'>0</text>
<text transform="translate(205.87,485.20) scale(1.0949,1)" font-size="22.02" text-anchor="middle" fill="#111" font-family='"Liberation Sans", sans-serif'>400</text>
<text transform="translate(292.44,485.20) scale(1.0949,1)" font-size="22.02" text-anchor="middle" fill="#111" font-family='"Liberation Sans", sans-serif'>800</text>
<text transform="translate(379.00,485.20) scale(1.0949,1)" font-size="22.02" text-anchor="middle" fill="#111" font-family='"Liberation Sans", sans-serif'>1200</text>
<text transform="translate(465.57,485.20) scale(1.0949,1)" font-size="22.02" text-anchor="middle" fill="#111" font-family='"Liberation Sans", sans-serif'>1600</text>
<text transform="translate(552.14,485.20) scale(1.0949,1)" font-size="22.02" text-anchor="middle" fill="#111" font-family='"Liberation Sans", sans-serif'>2000</text>
<text transform="translate(638.71,485.20) scale(1.0949,1)" font-size="22.02" text-anchor="middle" fill="#111" font-family='"Liberation Sans", sans-serif'>2400</text>
<text transform="translate(725.28,485.20) scale(1.0949,1)" font-size="22.02" text-anchor="middle" fill="#111" font-family='"Liberation Sans", sans-serif'>2800</text>
<text transform="translate(99.70,435.15) scale(1.0648,1)" font-size="22.52" text-anchor="end" fill="#111" font-family='"Liberation Sans", sans-serif'>0</text>
<text transform="translate(99.70,373.35) scale(1.0648,1)" font-size="22.52" text-anchor="end" fill="#111" font-family='"Liberation Sans", sans-serif'>0.2</text>
<text transform="translate(99.70,311.55) scale(1.0648,1)" font-size="22.52" text-anchor="end" fill="#111" font-family='"Liberation Sans", sans-serif'>0.4</text>
<text transform="translate(99.70,249.75) scale(1.0648,1)" font-size="22.52" text-anchor="end" fill="#111" font-family='"Liberation Sans", sans-serif'>0.6</text>
<text transform="translate(99.70,187.95) scale(1.0648,1)" font-size="22.52" text-anchor="end" fill="#111" font-family='"Liberation Sans", sans-serif'>0.8</text>
<text transform="translate(99.70,126.15) scale(1.0648,1)" font-size="22.52" text-anchor="end" fill="#111" font-family='"Liberation Sans", sans-serif'>1</text>
<text transform="translate(99.70,64.35) scale(1.0648,1)" font-size="22.52" text-anchor="end" fill="#111" font-family='"Liberation Sans", sans-serif'>1.2</text>
<text transform="translate(388.20,528.17) scale(1.0823,1)" font-size="28.51" text-anchor="middle" fill="#111" font-family='"Liberation Sans", sans-serif'>Time (s)</text>
<text transform="translate(40.50,213.05) scale(1.1200,1) rotate(-90)" font-size="29.20" text-anchor="middle" fill="#111" font-family='"Liberation Sans", sans-serif'>Potential vs E<tspan font-size="20" dy="7">Ag/AgCl</tspan><tspan dy="-7"> (V)</tspan></text>
<text transform="translate(117.67,64.35) scale(1.0652,1)" font-size="34.96" text-anchor="start" font-weight="bold" fill="#111" font-family='"Liberation Sans", sans-serif'>(a)</text>
<text transform="translate(609.40,59.02) scale(1.0470,1)" font-size="24.50" text-anchor="start" fill="#111" font-family='"Liberation Sans", sans-serif'>0.35 Ag<tspan font-size="16" dy="-10">-1</tspan></text>
<text transform="translate(609.40,92.62) scale(1.0470,1)" font-size="24.50" text-anchor="start" fill="#111" font-family='"Liberation Sans", sans-serif'>0.5 Ag<tspan font-size="16" dy="-10">-1</tspan></text>
<text transform="translate(609.40,126.23) scale(1.0470,1)" font-size="24.50" text-anchor="start" fill="#111" font-family='"Liberation Sans", sans-serif'>1.0 Ag<tspan font-size="16" dy="-10">-1</tspan></text>
<text transform="translate(609.40,159.83) scale(1.0470,1)" font-size="24.50" text-anchor="start" fill="#111" font-family='"Liberation Sans", sans-serif'>2.5 Ag<tspan font-size="16" dy="-10">-1</tspan></text>
<text transform="translate(609.40,193.43) scale(1.0470,1)" font-size="24.50" text-anchor="start" fill="#111" font-family='"Liberation Sans", sans-serif'>3.5 Ag<tspan font-size="16" dy="-10">-1</tspan></text>
<text transform="translate(609.40,227.03) scale(1.0470,1)" font-size="24.50" text-anchor="start" fill="#111" font-family='"Liberation Sans", sans-serif'>5.0 Ag<tspan font-size="16" dy="-10">-1</tspan></text>
<text transform="translate(857.75,488.30) scale(0.9963,1)" font-size="24.79" text-anchor="middle" fill="#111" font-family='"Liberation Sans", sans-serif'>0</text>
<text transform="translate(910.90,488.30) scale(0.9963,1)" font-size="24.79" text-anchor="middle" fill="#111" font-family='"Liberation Sans", sans-serif'>0.5</text>
<text transform="translate(964.05,488.30) scale(0.9963,1)" font-size="24.79" text-anchor="middle" fill="#111" font-family='"Liberation Sans", sans-serif'>1</text>
<text transform="translate(1017.20,488.30) scale(0.9963,1)" font-size="24.79" text-anchor="middle" fill="#111" font-family='"Liberation Sans", sans-serif'>1.5</text>
<text transform="translate(1070.35,488.30) scale(0.9963,1)" font-size="24.79" text-anchor="middle" fill="#111" font-family='"Liberation Sans", sans-serif'>2</text>
<text transform="translate(1123.50,488.30) scale(0.9963,1)" font-size="24.79" text-anchor="middle" fill="#111" font-family='"Liberation Sans", sans-serif'>2.5</text>
<text transform="translate(1176.65,488.30) scale(0.9963,1)" font-size="24.79" text-anchor="middle" fill="#111" font-family='"Liberation Sans", sans-serif'>3</text>
<text transform="translate(1229.80,488.30) scale(0.9963,1)" font-size="24.79" text-anchor="middle" fill="#111" font-family='"Liberation Sans", sans-serif'>3.5</text>
<text transform="translate(1282.95,488.30) scale(0.9963,1)" font-size="24.79" text-anchor="middle" fill="#111" font-family='"Liberation Sans", sans-serif'>4</text>
<text transform="translate(1336.10,488.30) scale(0.9963,1)" font-size="24.79" text-anchor="middle" fill="#111" font-family='"Liberation Sans", sans-serif'>4.5</text>
<text transform="translate(1389.25,488.30) scale(0.9963,1)" font-size="24.79" text-anchor="middle" fill="#111" font-family='"Liberation Sans", sans-serif'>5</text>
<text transform="translate(1442.40,488.30) scale(0.9963,1)" font-size="24.79" text-anchor="middle" fill="#111" font-family='"Liberation Sans", sans-serif'>5.5</text>
<text transform="translate(848.12,466.45) scale(1.0284,1)" font-size="24.58" text-anchor="end" fill="#111" font-family='"Liberation Sans", sans-serif'>0</text>
<text transform="translate(848.12,423.23) scale(1.0284,1)" font-size="24.58" text-anchor="end" fill="#111" font-family='"Liberation Sans", sans-serif'>50</text>
<text transform="translate(848.12,380.01) scale(1.0284,1)" font-size="24.58" text-anchor="end" fill="#111" font-family='"Liberation Sans", sans-serif'>100</text>
<text transform="translate(848.12,336.79) scale(1.0284,1)" font-size="24.58" text-anchor="end" fill="#111" font-family='"Liberation Sans", sans-serif'>150</text>
<text transform="translate(848.12,293.57) scale(1.0284,1)" font-size="24.58" text-anchor="end" fill="#111" font-family='"Liberation Sans", sans-serif'>200</text>
<text transform="translate(848.12,250.35) scale(1.0284,1)" font-size="24.58" text-anchor="end" fill="#111" font-family='"Liberation Sans", sans-serif'>250</text>
<text transform="translate(848.12,207.13) scale(1.0284,1)" font-size="24.58" text-anchor="end" fill="#111" font-family='"Liberation Sans", sans-serif'>300</text>
<text transform="translate(848.12,163.91) scale(1.0284,1)" font-size="24.58" text-anchor="end" fill="#111" font-family='"Liberation Sans", sans-serif'>350</text>
<text transform="translate(848.12,120.69) scale(1.0284,1)" font-size="24.58" text-anchor="end" fill="#111" font-family='"Liberation Sans", sans-serif'>400</text>
<text transform="translate(848.12,77.47) scale(1.0284,1)" font-size="24.58" text-anchor="end" fill="#111" font-family='"Liberation Sans", sans-serif'>450</text>
<text transform="translate(848.12,34.25) scale(1.0284,1)" font-size="24.58" text-anchor="end" fill="#111" font-family='"Liberation Sans", sans-serif'>500</text>
<text transform="translate(1150.90,540.10) scale(0.9994,1)" font-size="32.90" text-anchor="middle" fill="#111" font-family='"Liberation Sans", sans-serif'>Current density (A g<tspan font-size="22" dy="-13.3">-1</tspan><tspan dy="13.3">)</tspan></text>
<text transform="translate(790.50,243.03) scale(1.0450,1) rotate(-90)" font-size="33.07" text-anchor="middle" fill="#111" font-family='"Liberation Sans", sans-serif'>Specific capacity (C g<tspan font-size="21" dy="-13">-1</tspan><tspan dy="13">)</tspan></text>
<text transform="translate(1387.97,67.00) scale(0.9964,1)" font-size="39.37" text-anchor="start" font-weight="bold" fill="#111" font-family='"Liberation Sans", sans-serif'>(b)</text>
<text transform="translate(907.13,67.15) scale(1.0088,1)" font-size="23.03" text-anchor="start" fill="#111" font-family='"Liberation Sans", sans-serif'>464.1</text>
<text transform="translate(924.53,175.55) scale(1.0088,1)" font-size="23.03" text-anchor="start" fill="#111" font-family='"Liberation Sans", sans-serif'>338.5</text>
<text transform="translate(974.33,258.55) scale(1.0088,1)" font-size="23.03" text-anchor="start" fill="#111" font-family='"Liberation Sans", sans-serif'>225.0</text>
<text transform="translate(1124.42,326.05) scale(1.0088,1)" font-size="23.03" text-anchor="start" fill="#111" font-family='"Liberation Sans", sans-serif'>140.0</text>
<text transform="translate(1230.32,348.55) scale(1.0088,1)" font-size="23.03" text-anchor="start" fill="#111" font-family='"Liberation Sans", sans-serif'>112.0</text>
<text transform="translate(1372.72,371.65) scale(1.0088,1)" font-size="23.03" text-anchor="start" fill="#111" font-family='"Liberation Sans", sans-serif'>86.2</text>
<text transform="translate(121.80,1048.10) scale(1.0269,1)" font-size="21.87" text-anchor="middle" fill="#111" font-family='"Liberation Sans", sans-serif'>0</text>
<text transform="translate(98.65,1018.40) scale(1.0894,1)" font-size="21.58" text-anchor="end" fill="#111" font-family='"Liberation Sans", sans-serif'>0</text>
<text transform="translate(242.20,1048.10) scale(1.0269,1)" font-size="21.87" text-anchor="middle" fill="#111" font-family='"Liberation Sans", sans-serif'>5</text>
<text transform="translate(98.65,926.30) scale(1.0894,1)" font-size="21.58" text-anchor="end" fill="#111" font-family='"Liberation Sans", sans-serif'>5</text>
<text transform="translate(362.60,1048.10) scale(1.0269,1)" font-size="21.87" text-anchor="middle" fill="#111" font-family='"Liberation Sans", sans-serif'>10</text>
<text transform="translate(98.65,834.20) scale(1.0894,1)" font-size="21.58" text-anchor="end" fill="#111" font-family='"Liberation Sans", sans-serif'>10</text>
<text transform="translate(483.00,1048.10) scale(1.0269,1)" font-size="21.87" text-anchor="middle" fill="#111" font-family='"Liberation Sans", sans-serif'>15</text>
<text transform="translate(98.65,742.10) scale(1.0894,1)" font-size="21.58" text-anchor="end" fill="#111" font-family='"Liberation Sans", sans-serif'>15</text>
<text transform="translate(603.40,1048.10) scale(1.0269,1)" font-size="21.87" text-anchor="middle" fill="#111" font-family='"Liberation Sans", sans-serif'>20</text>
<text transform="translate(98.65,650.00) scale(1.0894,1)" font-size="21.58" text-anchor="end" fill="#111" font-family='"Liberation Sans", sans-serif'>20</text>
<text transform="translate(723.80,1048.10) scale(1.0269,1)" font-size="21.87" text-anchor="middle" fill="#111" font-family='"Liberation Sans", sans-serif'>25</text>
<text transform="translate(98.65,557.90) scale(1.0894,1)" font-size="21.58" text-anchor="end" fill="#111" font-family='"Liberation Sans", sans-serif'>25</text>
<text transform="translate(377.75,1084.38) scale(1.1184,1)" font-size="29.42" text-anchor="start" fill="#111" font-family='"Liberation Sans", sans-serif'>Z' [<tspan font-family='"Liberation Serif", serif'>&#937;</tspan>]</text>
<text transform="translate(60.03,786.45) scale(1.0225,1) rotate(-90)" font-size="31.19" text-anchor="middle" fill="#111" font-family='"Liberation Sans", sans-serif'>-Z'' [<tspan font-family='"Liberation Serif", serif'>&#937;</tspan>]</text>
<text transform="translate(118.35,594.28) scale(1.0994,1)" font-size="33.51" text-anchor="start" font-weight="bold" fill="#111" font-family='"Liberation Sans", sans-serif'>(c)</text>
<text transform="translate(248.83,586.75) scale(1.0945,1)" font-size="21.01" text-anchor="start" fill="#111" font-family='"Liberation Sans", sans-serif'>experimental data</text>
<text transform="translate(249.47,613.48) scale(1.1000,1)" font-size="20.66" text-anchor="start" fill="#111" font-family='"Liberation Sans", sans-serif'>fitted data</text>
<text transform="translate(513.45,614.23) scale(1.0693,1)" font-size="19.67" text-anchor="start" fill="#111" font-family='"Liberation Sans", sans-serif'>100 mHz</text>
<text transform="translate(288.00,883.43) scale(1.0542,1)" font-size="19.83" text-anchor="start" fill="#111" font-family='"Liberation Sans", sans-serif'>1 Hz</text>
<text transform="translate(497.95,980.00) scale(1.0185,1)" font-size="12.00" text-anchor="middle" fill="#1e1e1e" font-family='"Liberation Sans", sans-serif' stroke="#1e1e1e" stroke-width="0.45">0</text>
<text transform="translate(482.70,962.10) scale(0.9958,1)" font-size="11.15" text-anchor="end" fill="#1e1e1e" font-family='"Liberation Sans", sans-serif' stroke="#1e1e1e" stroke-width="0.45">0</text>
<text transform="translate(524.95,980.00) scale(1.0185,1)" font-size="12.00" text-anchor="middle" fill="#1e1e1e" font-family='"Liberation Sans", sans-serif' stroke="#1e1e1e" stroke-width="0.45">0.25</text>
<text transform="translate(482.70,941.54) scale(0.9958,1)" font-size="11.15" text-anchor="end" fill="#1e1e1e" font-family='"Liberation Sans", sans-serif' stroke="#1e1e1e" stroke-width="0.45">0.25</text>
<text transform="translate(551.95,980.00) scale(1.0185,1)" font-size="12.00" text-anchor="middle" fill="#1e1e1e" font-family='"Liberation Sans", sans-serif' stroke="#1e1e1e" stroke-width="0.45">0.5</text>
<text transform="translate(482.70,920.98) scale(0.9958,1)" font-size="11.15" text-anchor="end" fill="#1e1e1e" font-family='"Liberation Sans", sans-serif' stroke="#1e1e1e" stroke-width="0.45">0.5</text>
<text transform="translate(578.95,980.00) scale(1.0185,1)" font-size="12.00" text-anchor="middle" fill="#1e1e1e" font-family='"Liberation Sans", sans-serif' stroke="#1e1e1e" stroke-width="0.45">0.75</text>
<text transform="translate(482.70,900.41) scale(0.9958,1)" font-size="11.15" text-anchor="end" fill="#1e1e1e" font-family='"Liberation Sans", sans-serif' stroke="#1e1e1e" stroke-width="0.45">0.75</text>
<text transform="translate(605.95,980.00) scale(1.0185,1)" font-size="12.00" text-anchor="middle" fill="#1e1e1e" font-family='"Liberation Sans", sans-serif' stroke="#1e1e1e" stroke-width="0.45">1</text>
<text transform="translate(482.70,879.85) scale(0.9958,1)" font-size="11.15" text-anchor="end" fill="#1e1e1e" font-family='"Liberation Sans", sans-serif' stroke="#1e1e1e" stroke-width="0.45">1</text>
<text transform="translate(632.95,980.00) scale(1.0185,1)" font-size="12.00" text-anchor="middle" fill="#1e1e1e" font-family='"Liberation Sans", sans-serif' stroke="#1e1e1e" stroke-width="0.45">1.25</text>
<text transform="translate(482.70,859.29) scale(0.9958,1)" font-size="11.15" text-anchor="end" fill="#1e1e1e" font-family='"Liberation Sans", sans-serif' stroke="#1e1e1e" stroke-width="0.45">1.25</text>
<text transform="translate(659.95,980.00) scale(1.0185,1)" font-size="12.00" text-anchor="middle" fill="#1e1e1e" font-family='"Liberation Sans", sans-serif' stroke="#1e1e1e" stroke-width="0.45">1.5</text>
<text transform="translate(482.70,838.73) scale(0.9958,1)" font-size="11.15" text-anchor="end" fill="#1e1e1e" font-family='"Liberation Sans", sans-serif' stroke="#1e1e1e" stroke-width="0.45">1.5</text>
<text transform="translate(686.95,980.00) scale(1.0185,1)" font-size="12.00" text-anchor="middle" fill="#1e1e1e" font-family='"Liberation Sans", sans-serif' stroke="#1e1e1e" stroke-width="0.45">1.75</text>
<text transform="translate(482.70,818.16) scale(0.9958,1)" font-size="11.15" text-anchor="end" fill="#1e1e1e" font-family='"Liberation Sans", sans-serif' stroke="#1e1e1e" stroke-width="0.45">1.75</text>
<text transform="translate(713.95,980.00) scale(1.0185,1)" font-size="12.00" text-anchor="middle" fill="#1e1e1e" font-family='"Liberation Sans", sans-serif' stroke="#1e1e1e" stroke-width="0.45">2</text>
<text transform="translate(482.70,797.60) scale(0.9958,1)" font-size="11.15" text-anchor="end" fill="#1e1e1e" font-family='"Liberation Sans", sans-serif' stroke="#1e1e1e" stroke-width="0.45">2</text>
<text transform="translate(600.50,1002.70) scale(1.0600,1)" font-size="13.50" text-anchor="middle" fill="#1e1e1e" font-family='"Liberation Sans", sans-serif' stroke="#1e1e1e" stroke-width="0.45">Z' [<tspan font-family='"Liberation Serif", serif'>&#937;</tspan>]</text>
<text transform="translate(453.90,880.87) scale(0.9534,1) rotate(-90)" font-size="14.18" text-anchor="middle" fill="#1e1e1e" font-family='"Liberation Sans", sans-serif' stroke="#1e1e1e" stroke-width="0.45">-Z'' [<tspan font-family='"Liberation Serif", serif'>&#937;</tspan>]</text>
<text transform="translate(631.32,863.45) scale(1.1130,1)" font-size="10.81" text-anchor="start" fill="#1e1e1e" font-family='"Liberation Sans", sans-serif' stroke="#1e1e1e" stroke-width="0.45">100 Hz</text>
<text transform="translate(563.17,935.80) scale(1.2114,1)" font-size="9.75" text-anchor="start" fill="#1e1e1e" font-family='"Liberation Sans", sans-serif' stroke="#1e1e1e" stroke-width="0.45">1 kHz</text>
<text transform="translate(550.45,954.95) scale(1.2195,1)" font-size="9.75" text-anchor="start" fill="#1e1e1e" font-family='"Liberation Sans", sans-serif' stroke="#1e1e1e" stroke-width="0.45">100 kHz</text>
<text transform="translate(862.22,594.57) scale(1.1643,1)" font-size="32.18" text-anchor="start" font-weight="bold" fill="#111" font-family='"Liberation Sans", sans-serif'>(d)</text>
<text transform="translate(952.68,652.32) scale(1.1089,1)" font-size="27.51" text-anchor="start" font-weight="bold" fill="#111" font-family='"Liberation Sans", sans-serif'>ECC =</text>
<text transform="translate(1195.90,597.52) scale(0.9339,1)" font-size="13.46" text-anchor="middle" font-weight="bold" fill="#1a1a1a" font-family='"Liberation Sans", sans-serif'>CPE1</text>
<text transform="translate(1264.20,690.77) scale(0.8906,1)" font-size="13.76" text-anchor="middle" font-weight="bold" fill="#1a1a1a" font-family='"Liberation Sans", sans-serif'>CPE2</text>
<text transform="translate(1104.83,644.77) scale(0.8302,1)" font-size="13.76" text-anchor="start" font-weight="bold" fill="#111" font-family='"Liberation Sans", sans-serif'>R<tspan font-size="8.5" dy="3.5">s</tspan></text>
<text transform="translate(1187.12,690.80) scale(0.8499,1)" font-size="13.33" text-anchor="start" font-weight="bold" fill="#111" font-family='"Liberation Sans", sans-serif'>R<tspan font-size="8.7" dy="3">CT</tspan></text>
<text transform="translate(929.00,743.13) scale(1.1075,1)" font-size="23.27" text-anchor="start" font-weight="bold" fill="#111" font-family='"Liberation Sans", sans-serif'>EEC-Element</text>
<text transform="translate(1183.97,743.03) scale(1.1529,1)" font-size="21.50" text-anchor="start" font-weight="bold" fill="#111" font-family='"Liberation Sans", sans-serif'>Value</text>
<text transform="translate(928.70,788.00) scale(1.0430,1)" font-size="24.90" text-anchor="start" fill="#111" font-family='"Liberation Sans", sans-serif'>R<tspan font-size="17" dy="5">s</tspan></text>
<text transform="translate(1182.57,787.53) scale(1.1353,1)" font-size="23.24" text-anchor="start" fill="#111" font-family='"Liberation Sans", sans-serif'>236.8 m&#937;</text>
<text transform="translate(928.70,832.20) scale(1.0430,1)" font-size="24.90" text-anchor="start" fill="#111" font-family='"Liberation Sans", sans-serif'>CPE 1 (Q&#176;)</text>
<text transform="translate(1182.57,831.73) scale(1.1353,1)" font-size="23.24" text-anchor="start" fill="#111" font-family='"Liberation Sans", sans-serif'>5.725 mSs<tspan font-size="15" dy="-8" font-weight="bold">n</tspan></text>
<text transform="translate(928.70,877.10) scale(1.0430,1)" font-size="24.90" text-anchor="start" fill="#111" font-family='"Liberation Sans", sans-serif'>CPE 1 (n)</text>
<text transform="translate(1182.57,876.63) scale(1.1353,1)" font-size="23.24" text-anchor="start" fill="#111" font-family='"Liberation Sans", sans-serif'>0.71</text>
<text transform="translate(928.70,922.00) scale(1.0430,1)" font-size="24.90" text-anchor="start" fill="#111" font-family='"Liberation Sans", sans-serif'>R<tspan font-size="17" dy="5">CT</tspan></text>
<text transform="translate(1182.57,921.53) scale(1.1353,1)" font-size="23.24" text-anchor="start" fill="#111" font-family='"Liberation Sans", sans-serif'>7.31 &#937;</text>
<text transform="translate(928.70,965.70) scale(1.0430,1)" font-size="24.90" text-anchor="start" fill="#111" font-family='"Liberation Sans", sans-serif'>CPE 2 (Q&#176;)</text>
<text transform="translate(1182.57,965.23) scale(1.1353,1)" font-size="23.24" text-anchor="start" fill="#111" font-family='"Liberation Sans", sans-serif'>43.52 mSs<tspan font-size="15" dy="-8" font-weight="bold">n</tspan></text>
<text transform="translate(928.70,1010.10) scale(1.0430,1)" font-size="24.90" text-anchor="start" fill="#111" font-family='"Liberation Sans", sans-serif'>CPE 2 (n)</text>
<text transform="translate(1182.57,1009.63) scale(1.1353,1)" font-size="23.24" text-anchor="start" fill="#111" font-family='"Liberation Sans", sans-serif'>0.61</text>
</svg>
</body></html>
